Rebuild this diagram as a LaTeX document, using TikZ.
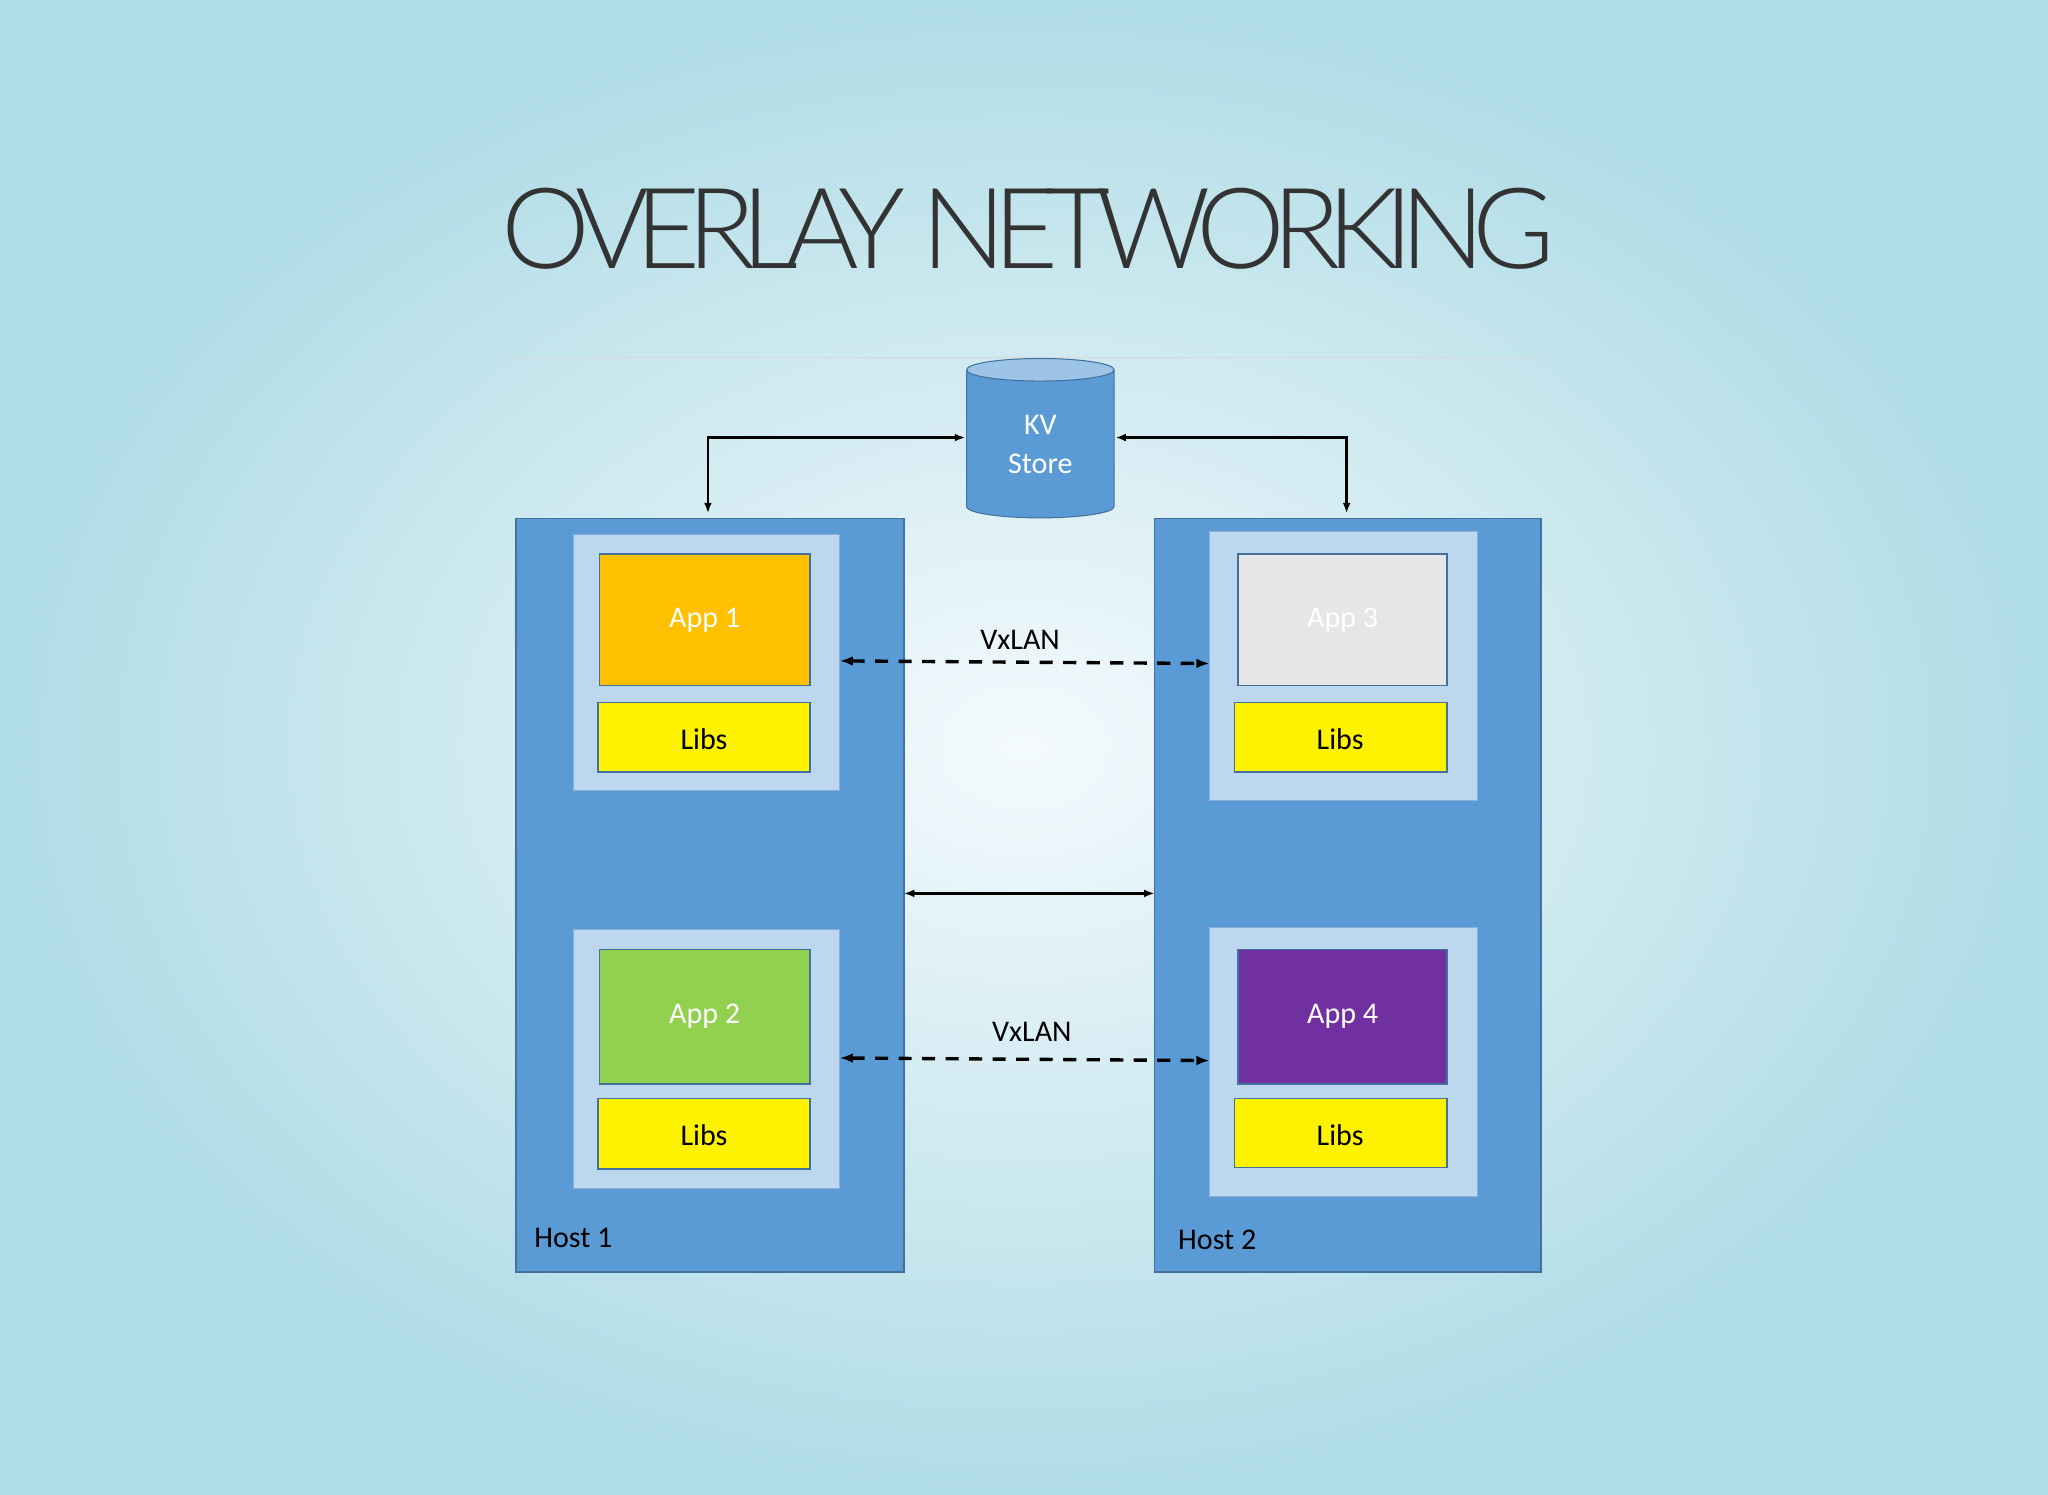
\documentclass[tikz,border=0pt]{standalone}
\usepackage{fontspec}
\setmainfont{Carlito}
\newfontfamily\titlefont{Lato Light}[LetterSpace=-12]
\usetikzlibrary{shapes.geometric,arrows.meta}
\definecolor{host}{HTML}{5B9BD5}
\definecolor{hostb}{HTML}{41719C}
\definecolor{inner}{HTML}{BDD7EE}
\definecolor{innerb}{HTML}{8FAADC}
\definecolor{bgout}{HTML}{B0DCE6}
\definecolor{bgin}{HTML}{F4FAFD}
\begin{document}
\begin{tikzpicture}[x=0.5pt,y=-0.5pt,
  box/.style={draw=hostb,line width=0.6pt},
  txt/.style={font=\fontsize{11.5}{13}\selectfont},
  arr/.style={line width=1pt,{Latex[length=4pt]}-{Latex[length=4pt]}},
  dasharr/.style={line width=1.3pt,dash pattern=on 5pt off 4pt,{Latex[length=5pt]}-{Latex[length=5pt]}}]
\useasboundingbox (0,0) rectangle (1568,1144);
\shade[inner color=bgin,outer color=bgout] (0,0) rectangle (1568,1144);
\node[text=black!80,font=\titlefont\fontsize{43}{43}\selectfont,inner sep=0pt] (title) at (787,175) {OVERLAY NETWORKING};
\draw[black!15,line width=0.4pt] (388,274) -- (1180,274);
% hosts
\draw[box,fill=host] (395,397) rectangle (692,974) coordinate (h1);
\draw[box,fill=host] (884,397) rectangle (1180,974) coordinate (h2);
\coordinate (h1l) at (692,684); \coordinate (h2r) at (884,684);
\node[txt,anchor=west] (host1) at (402,948) {Host 1};
\node[txt,anchor=west] (host2) at (895,949) {Host 2};
% containers
\draw[draw=innerb,fill=inner] (439,409) rectangle (643,605);
\draw[draw=innerb,fill=inner] (439,712) rectangle (643,910);
\draw[draw=innerb,fill=inner] (926,407) rectangle (1131,613);
\draw[draw=innerb,fill=inner] (926,710) rectangle (1131,916);
\draw[box,fill={rgb,255:red,255;green,192;blue,0}] (459,424) rectangle (620,525);
\node[txt,white] (app1) at (539.5,475) {App 1};
\draw[box,fill=yellow] (458,538) rectangle (620,591); \node[txt] (l1) at (539,566) {Libs};
\draw[box,fill={rgb,255:red,146;green,208;blue,80}] (459,727) rectangle (620,830);
\node[txt,white] (app2) at (539.5,778) {App 2};
\draw[box,fill=yellow] (458,841) rectangle (620,895); \node[txt] (l2) at (539,869) {Libs};
\draw[box,fill={rgb,255:red,231;green,230;blue,230}] (948,424) rectangle (1108,525);
\node[txt,white] (app3) at (1028,475) {App 3};
\draw[box,fill=yellow] (945,538) rectangle (1108,591); \node[txt] (l3) at (1026,566) {Libs};
\draw[box,fill={rgb,255:red,112;green,48;blue,160}] (948,727) rectangle (1108,830);
\node[txt,white] (app4) at (1028,778) {App 4};
\draw[box,fill=yellow] (945,841) rectangle (1108,894); \node[txt] (l4) at (1026,869) {Libs};
% KV store
\node[cylinder,shape border rotate=90,draw=hostb,
  cylinder uses custom fill,cylinder body fill=host,cylinder end fill={rgb,255:red,157;green,195;blue,230},
  minimum width=56.5pt,minimum height=61pt,aspect=0.35,inner sep=0pt,
  txt,text=white,align=center] (kv) at (796.5,340) {KV\\[2pt]Store};
% connectors
\coordinate (kw) at (739,335); \coordinate (ke) at (854,335);
\coordinate (a1) at (542,393); \coordinate (a2) at (1031,393);
\draw[arr] (a1) |- (kw);
\draw[arr] (a2) |- (ke);
\coordinate (d1a) at (643,506); \coordinate (d1b) at (926,508);
\coordinate (d2a) at (643,810); \coordinate (d2b) at (926,812);
\draw[dasharr] (d1a) -- (d1b);
\draw[dasharr] (d2a) -- (d2b);
\node[txt] (vx1) at (781,490) {VxLAN};
\node[txt] (vx2) at (790,790) {VxLAN};
\draw[arr] (h1l) -- (h2r);
\end{tikzpicture}
\end{document}
